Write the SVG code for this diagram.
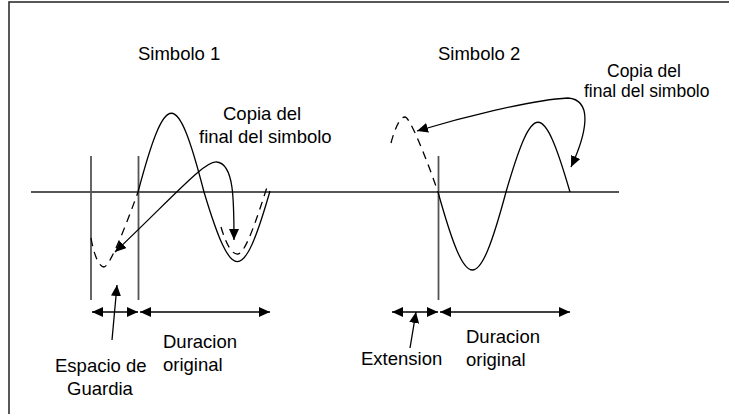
<svg xmlns="http://www.w3.org/2000/svg" width="729" height="414" viewBox="0 0 729 414">
<style>
text{font-family:"Liberation Sans",Arial,sans-serif;font-size:18.5px;fill:#000}
.sm{font-size:17.5px}
.axis{stroke:#555;stroke-width:1.8;fill:none}
.wave{stroke:#000;stroke-width:1.3;fill:none}
.dash{stroke:#000;stroke-width:1.3;fill:none;stroke-dasharray:8 6}
.arr{stroke:#000;stroke-width:1.3;fill:none;marker-end:url(#ah)}
.arr2{stroke:#000;stroke-width:1.3;fill:none;marker-start:url(#ah);marker-end:url(#ah)}
</style>
<defs>
<marker id="ah" viewBox="0 0 11 10" refX="11" refY="5" markerWidth="11" markerHeight="10" markerUnits="userSpaceOnUse" orient="auto-start-reverse">
<path d="M0,0 L11,5 L0,10 Z" fill="#000"/>
</marker>
</defs>
<rect x="9" y="2" width="760" height="460" fill="none" stroke="#222" stroke-width="1.5"/>
<g id="axis">
<line class="axis" x1="31" y1="192" x2="619" y2="192"/>
<line class="axis" x1="91" y1="156" x2="91" y2="300"/>
<line class="axis" x1="138.5" y1="156" x2="138.5" y2="300"/>
<line class="axis" x1="438.5" y1="156" x2="438.5" y2="300"/>
</g>
<g id="simbolo1">
<path class="wave" d="M138,192 C166,87 177,87 204,192 C232,285 243,285 270,191"/>
<path class="dash" d="M91,238 C94,255 99,267 104,267 C110,267 128,220 138,192"/>
<path class="dash" d="M221,227 C226,244 232,255 238,254 C246,253 258,215 268,184"/>
<text x="138" y="60">Simbolo 1</text>
<text x="223" y="120">Copia del</text>
<text x="199" y="143">final del simbolo</text>
</g>
<g id="simbolo2">
<path class="wave" d="M438,192 C467,296 478,296 506,192 C533,99 543,99 570,192"/>
<path class="dash" d="M391,143 C395,128 400,117 405,117 C410,117 427,160 438,192"/>
<text x="438" y="60">Simbolo 2</text>
<text class="sm" x="607" y="77">Copia del</text>
<text class="sm" x="584" y="97">final del simbolo</text>
</g>
<g id="labels">
<text x="55" y="372">Espacio de</text>
<text x="67" y="395">Guardia</text>
<text x="163" y="348">Duracion</text>
<text x="163" y="371">original</text>
<text x="361" y="365">Extension</text>
<text x="466" y="343">Duracion</text>
<text x="466" y="366">original</text>
</g>
<g id="connectors">
<path class="arr2" d="M234,240 C234,200 234,164 217,162 C205,160 175,195 115,252"/>
<path class="arr2" d="M571,167 C586,135 594,100 568,98 C530,100 460,118 417,131"/>
<line class="arr2" x1="92" y1="312" x2="138" y2="312"/>
<line class="arr2" x1="140" y1="312" x2="270" y2="312"/>
<line class="arr2" x1="392" y1="312" x2="438" y2="312"/>
<line class="arr2" x1="440" y1="312" x2="570" y2="312"/>
<line class="arr" x1="112" y1="340" x2="117" y2="285"/>
<line class="arr" x1="410" y1="348" x2="416" y2="312"/>
</g>
</svg>
